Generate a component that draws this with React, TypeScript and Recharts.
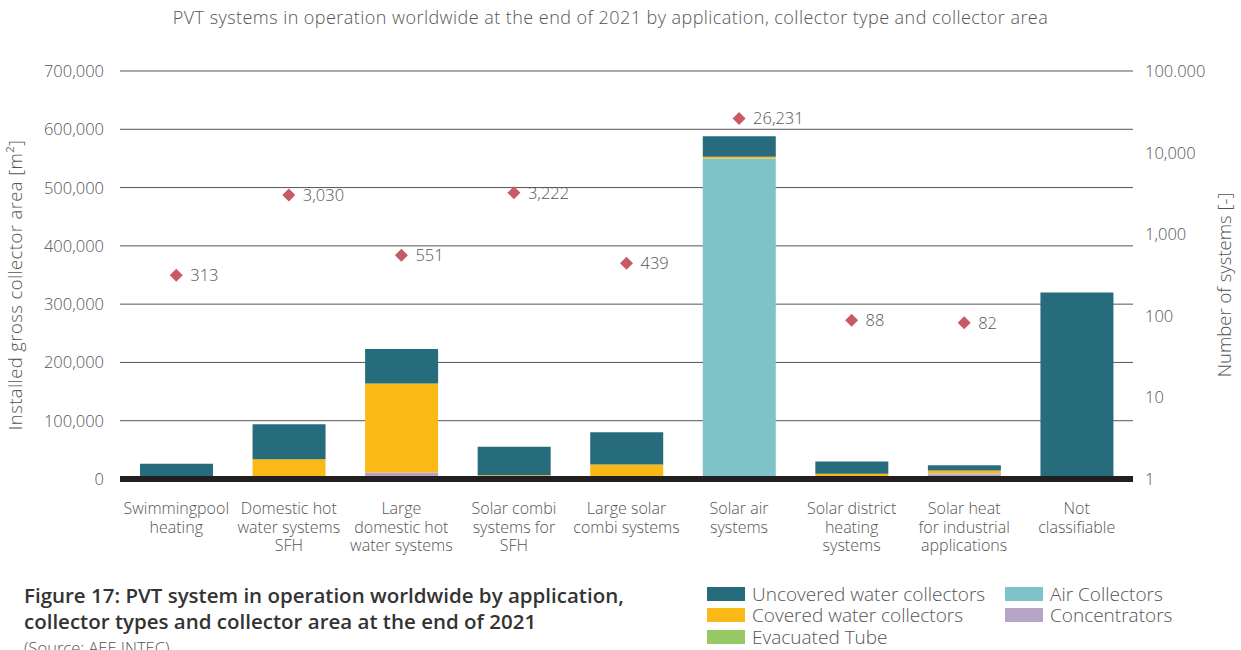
import React from "react";
import {
  ComposedChart,
  Bar,
  Scatter,
  XAxis,
  YAxis,
  CartesianGrid,
} from "recharts";

const FONT = "'Open Sans', sans-serif";
const TEXT = "#555555";

const categories = [
  "Swimmingpool heating",
  "Domestic hot water systems SFH",
  "Large domestic hot water systems",
  "Solar combi systems for SFH",
  "Large solar combi systems",
  "Solar air systems",
  "Solar district heating systems",
  "Solar heat for industrial applications",
  "Not classifiable",
];

// category labels as they wrap in the picture
const categoryLines = [
  ["Swimmingpool", "heating"],
  ["Domestic hot", "water systems", "SFH"],
  ["Large", "domestic hot", "water systems"],
  ["Solar combi", "systems for", "SFH"],
  ["Large solar", "combi systems"],
  ["Solar air", "systems"],
  ["Solar district", "heating", "systems"],
  ["Solar heat", "for industrial", "applications"],
  ["Not", "classifiable"],
];

// collector area in m²
const concentrators = [0, 0, 11000, 0, 2000, 0, 0, 8000, 0];
const airCollectors = [0, 0, 0, 0, 0, 550000, 0, 1500, 0];
const evacuatedTube = [0, 0, 0, 0, 0, 0, 0, 0, 0];
const coveredWater = [3000, 34000, 153000, 6500, 23000, 3000, 9000, 5000, 0];
const uncoveredWater = [23000, 60000, 59000, 49000, 55000, 35000, 21000, 9000, 320000];

// number of systems (right axis, log)
const systems = [313, 3030, 551, 3222, 439, 26231, 88, 82, null];

const leftTicks = [0, 100000, 200000, 300000, 400000, 500000, 600000, 700000];
const rightTicks = [1, 10, 100, 1000, 10000, 100000];

const series = [
  { key: "concentrators", name: "Concentrators", color: "#b7a5c7" },
  { key: "air", name: "Air Collectors", color: "#7dc3c8" },
  { key: "evacuated", name: "Evacuated Tube", color: "#96c864" },
  { key: "covered", name: "Covered water collectors", color: "#fbb917" },
  { key: "uncovered", name: "Uncovered water collectors", color: "#276c7c" },
];

const data = categories.map((c, i) => ({
  category: c,
  concentrators: concentrators[i],
  air: airCollectors[i],
  evacuated: evacuatedTube[i],
  covered: coveredWater[i],
  uncovered: uncoveredWater[i],
  systems: systems[i],
}));

const legendRows = [
  [series[4], series[1]],
  [series[3], series[0]],
  [series[2]],
];

const TICK_SIZE = 16.5;

const CategoryTick = (props: any) => {
  const { x, y, payload } = props;
  const lines = categoryLines[payload.index] || [payload.value];
  return (
    <text x={x} y={y} textAnchor="middle" fill={TEXT} fontSize={16} fontWeight={300} fontFamily={FONT}>
      {lines.map((l: string, i: number) => (
        <tspan key={i} x={x} dy={i === 0 ? 27 : 18.7}>
          {l}
        </tspan>
      ))}
    </text>
  );
};

const LeftTick = (props: any) => {
  const { x, y, payload } = props;
  return (
    <text x={x} y={y + 6} textAnchor="end" fill={TEXT} fontSize={TICK_SIZE} fontWeight={300} fontFamily={FONT}>
      {payload.value.toLocaleString("en-US")}
    </text>
  );
};

const RightTick = (props: any) => {
  const { x, y, payload } = props;
  const v = payload.value;
  const label = v === 100000 ? "100.000" : v.toLocaleString("en-US");
  return (
    <text x={x} y={y + 6} textAnchor="start" fill={TEXT} fontSize={TICK_SIZE} fontWeight={300} fontFamily={FONT}>
      {label}
    </text>
  );
};

const Diamond = (props: any) => {
  const { cx, cy, payload } = props;
  if (payload == null || payload.systems == null || !isFinite(cy)) return null;
  const r = 6.5;
  return (
    <g>
      <path
        d={`M${cx},${cy - r}L${cx + r},${cy}L${cx},${cy + r}L${cx - r},${cy}Z`}
        fill="#c85a64"
      />
      <text x={cx + 14} y={cy + 6} fill={TEXT} fontSize={TICK_SIZE} fontWeight={300} fontFamily={FONT}>
        {payload.systems.toLocaleString("en-US")}
      </text>
    </g>
  );
};

export default function App() {
  return (
    <div
      style={{
        position: "absolute",
        left: 0,
        top: 0,
        width: 1241,
        height: 650,
        overflow: "hidden",
        background: "#fff",
        fontFamily: FONT,
      }}
    >
      <div
        style={{
          position: "absolute",
          top: 5,
          left: 0,
          width: 1221,
          textAlign: "center",
          fontSize: 18,
          letterSpacing: 0.45,
          fontWeight: 300,
          color: TEXT,
          whiteSpace: "nowrap",
        }}
      >
        PVT systems in operation worldwide at the end of 2021 by application, collector type and collector area
      </div>

      <ComposedChart
        width={1241}
        height={650}
        data={data}
        margin={{ top: 71, right: 8, bottom: 81, left: 20 }}
        style={{ position: "absolute", left: 0, top: 0 }}
      >
        <CartesianGrid vertical={false} stroke="#555555" strokeWidth={1} yAxisId="left" />
        <XAxis
          dataKey="category"
          tick={<CategoryTick />}
          tickLine={false}
          axisLine={{ stroke: "#231f20", strokeWidth: 6 }}
          interval={0}
          height={90}
        />
        <YAxis
          yAxisId="left"
          domain={[0, 700000]}
          ticks={leftTicks}
          tick={<LeftTick />}
          tickLine={false}
          axisLine={false}
          width={100}
          tickSize={0}
          tickMargin={16}
        />
        <YAxis
          yAxisId="right"
          orientation="right"
          scale="log"
          domain={[1, 100000]}
          ticks={rightTicks}
          allowDataOverflow
          tick={<RightTick />}
          tickLine={false}
          axisLine={false}
          width={100}
          tickSize={0}
          tickMargin={12}
        />
        {series.map((s) => (
          <Bar
            key={s.key}
            dataKey={s.key}
            name={s.name}
            yAxisId="left"
            stackId="area"
            fill={s.color}
            barSize={73}
            isAnimationActive={false}
          />
        ))}
        <Scatter
          dataKey="systems"
          yAxisId="right"
          shape={<Diamond />}
          isAnimationActive={false}
        />
      </ComposedChart>

      {/* axis titles */}
      <svg width={1241} height={650} style={{ position: "absolute", left: 0, top: 0, pointerEvents: "none" }}>
        <text
          transform="translate(22,285) rotate(-90)"
          textAnchor="middle"
          fill={TEXT}
          fontSize={18.5}
          letterSpacing={0.4}
          fontWeight={300}
          fontFamily={FONT}
        >
          Installed gross collector area [m²]
        </text>
        <text
          transform="translate(1231,285) rotate(-90)"
          textAnchor="middle"
          fill={TEXT}
          fontSize={18.5}
          fontWeight={300}
          fontFamily={FONT}
        >
          Number of systems [-]
        </text>
      </svg>

      <div
        style={{
          position: "absolute",
          left: 24,
          top: 582,
          fontSize: 20.5,
          fontWeight: 600,
          lineHeight: "26px",
          color: "#333333",
          whiteSpace: "nowrap",
        }}
      >
        Figure 17: PVT system in operation worldwide by application,
        <br />
        collector types and collector area at the end of 2021
      </div>
      <div
        style={{
          position: "absolute",
          left: 24,
          top: 636,
          fontSize: 16.5,
          fontWeight: 300,
          color: TEXT,
        }}
      >
        (Source: AEE INTEC)
      </div>

      <div style={{ position: "absolute", left: 707, top: 583 }}>
        {legendRows.map((row, ri) => (
          <div key={ri} style={{ display: "flex", height: 21.5, alignItems: "center" }}>
            {row.map((s, ci) => (
              <div
                key={s.key}
                style={{ display: "flex", alignItems: "center", width: ci === 0 ? 298 : 200 }}
              >
                <span
                  style={{
                    display: "inline-block",
                    width: 38,
                    height: 14,
                    background: s.color,
                    marginRight: 7,
                  }}
                />
                <span
                  style={{
                    fontSize: 19,
                    lineHeight: "20px",
                    fontWeight: 300,
                    color: TEXT,
                    whiteSpace: "nowrap",
                  }}
                >
                  {s.name}
                </span>
              </div>
            ))}
          </div>
        ))}
      </div>
    </div>
  );
}
